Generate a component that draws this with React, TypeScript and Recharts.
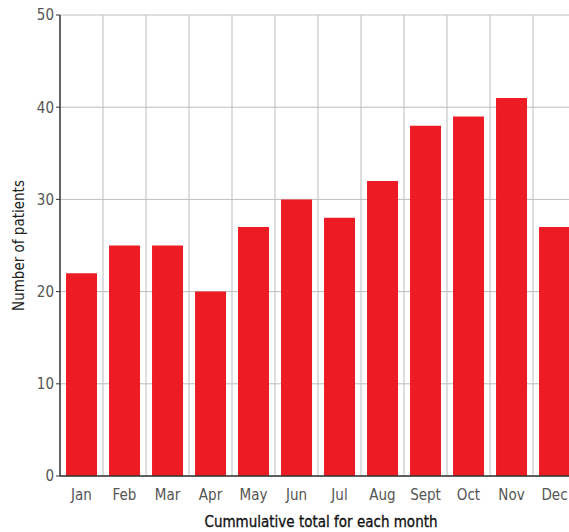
import { BarChart, Bar, XAxis, YAxis, CartesianGrid } from 'recharts';

const months = ['Jan', 'Feb', 'Mar', 'Apr', 'May', 'Jun', 'Jul', 'Aug', 'Sept', 'Oct', 'Nov', 'Dec'];
const patients = [22, 25, 25, 20, 27, 30, 28, 32, 38, 39, 41, 27];
const yTicks = [0, 10, 20, 30, 40, 50];

const data = months.map((month, i) => ({ month, patients: patients[i] }));

const font = '"DejaVu Sans Condensed", "Liberation Sans Narrow", sans-serif';

export default function App() {
  return (
    <div
      style={{
        position: 'absolute',
        left: 0,
        top: 0,
        width: 569,
        height: 532,
        overflow: 'hidden',
        background: '#fff',
      }}
    >
      {/* plot runs a little past the right edge, like the source image */}
      <BarChart
        width={580}
        height={532}
        data={data}
        margin={{ top: 15, right: 4, left: 0, bottom: 26 }}
        barCategoryGap="14%"
      >
        <CartesianGrid
          stroke="#bdbdbd"
          verticalCoordinatesGenerator={({ offset }: any) =>
            months.map((_, i) => offset.left + (offset.width * (i + 1)) / months.length)
          }
        />
        <XAxis
          dataKey="month"
          axisLine={{ stroke: '#333', strokeWidth: 1.5 }}
          tickLine={false}
          tick={{ fill: '#555', fontSize: 15, fontFamily: font }}
          tickMargin={7}
          label={{
            value: 'Cummulative total for each month',
            position: 'insideBottom',
            offset: -21,
            dx: 3,
            fill: '#111',
            fontSize: 15,
            fontFamily: font,
            style: { stroke: '#111', strokeWidth: 0.3 },
          }}
        />
        <YAxis
          width={60}
          domain={[0, 50]}
          ticks={yTicks}
          axisLine={{ stroke: '#333', strokeWidth: 1.5 }}
          tickLine={{ stroke: '#333' }}
          tickSize={4}
          tick={{ fill: '#555', fontSize: 15, fontFamily: font }}
          label={{
            value: 'Number of patients',
            angle: -90,
            position: 'insideLeft',
            offset: 19,
            style: { textAnchor: 'middle' },
            fill: '#222',
            fontSize: 15,
            fontFamily: font,
          }}
        />
        <Bar dataKey="patients" fill="#ED1C24" isAnimationActive={false} />
      </BarChart>
    </div>
  );
}
